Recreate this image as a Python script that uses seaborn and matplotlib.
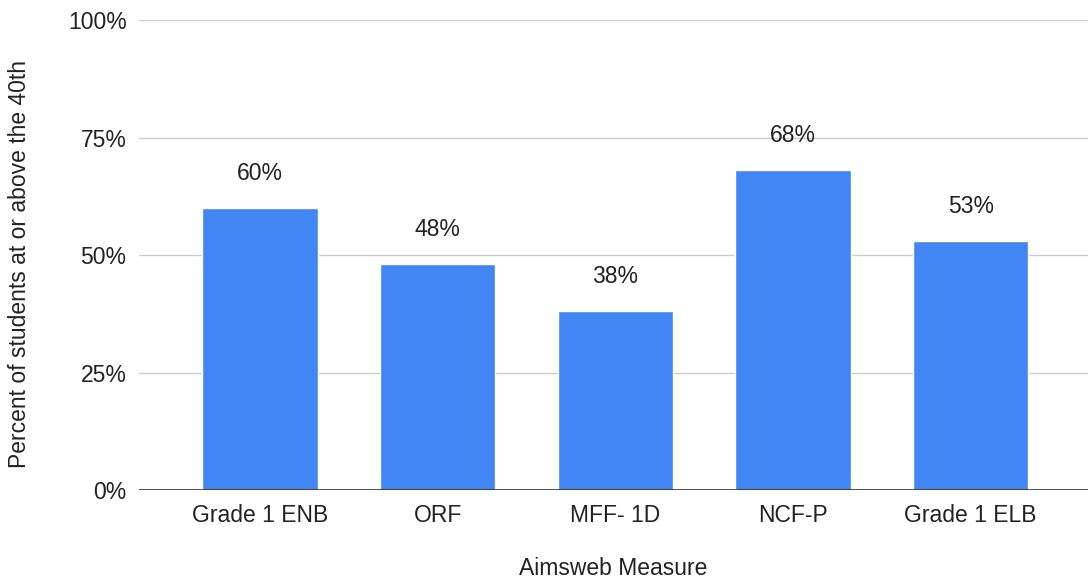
import matplotlib
matplotlib.use("Agg")
import matplotlib.pyplot as plt
import seaborn as sns
import pandas as pd

measures = ["Grade 1 ENB", "ORF", "MFF- 1D", "NCF-P", "Grade 1 ELB"]
percents = [60, 48, 38, 68, 53]
y_ticks = [0, 25, 50, 75, 100]

sns.set_theme(style="white")
plt.rcParams["font.family"] = ["Liberation Sans", "DejaVu Sans"]

df = pd.DataFrame({"measure": measures, "percent": percents})

fig = plt.figure(figsize=(10.88, 5.83), dpi=100)
ax = fig.add_axes([0.1278, 0.1595, 0.8722, 0.8062])

sns.barplot(data=df, x="measure", y="percent", color="#4285F4",
            saturation=1, width=0.65, ax=ax, zorder=3)

fs = 16.5
for i, v in enumerate(percents):
    ax.annotate(f"{v}%", (i, v), xytext=(0, 25), textcoords="offset points",
                ha="center", va="center", fontsize=fs, color="#222222")

ax.set_ylim(0, 100)
ax.set_xlim(-0.68, 4.66)
ax.set_yticks(y_ticks)
ax.set_yticklabels([f"{t}%" for t in y_ticks])
ax.yaxis.grid(True, color="#cccccc", linewidth=1, zorder=0)
ax.axhline(0, color="#333333", linewidth=1.2, zorder=4)

for s in ax.spines.values():
    s.set_visible(False)

ax.tick_params(axis="both", length=0, labelsize=fs, colors="#222222")
ax.tick_params(axis="y", pad=9)
ax.tick_params(axis="x", pad=10)

ax.set_xlabel("Aimsweb Measure", fontsize=fs, color="#222222", labelpad=22)
ax.set_ylabel("Percent of students at or above the 40th", fontsize=fs,
              color="#222222")
ax.yaxis.set_label_coords(-0.126, 0.48)
ax.yaxis.label.set_va("center")

fig.savefig("out.png", dpi=100)
